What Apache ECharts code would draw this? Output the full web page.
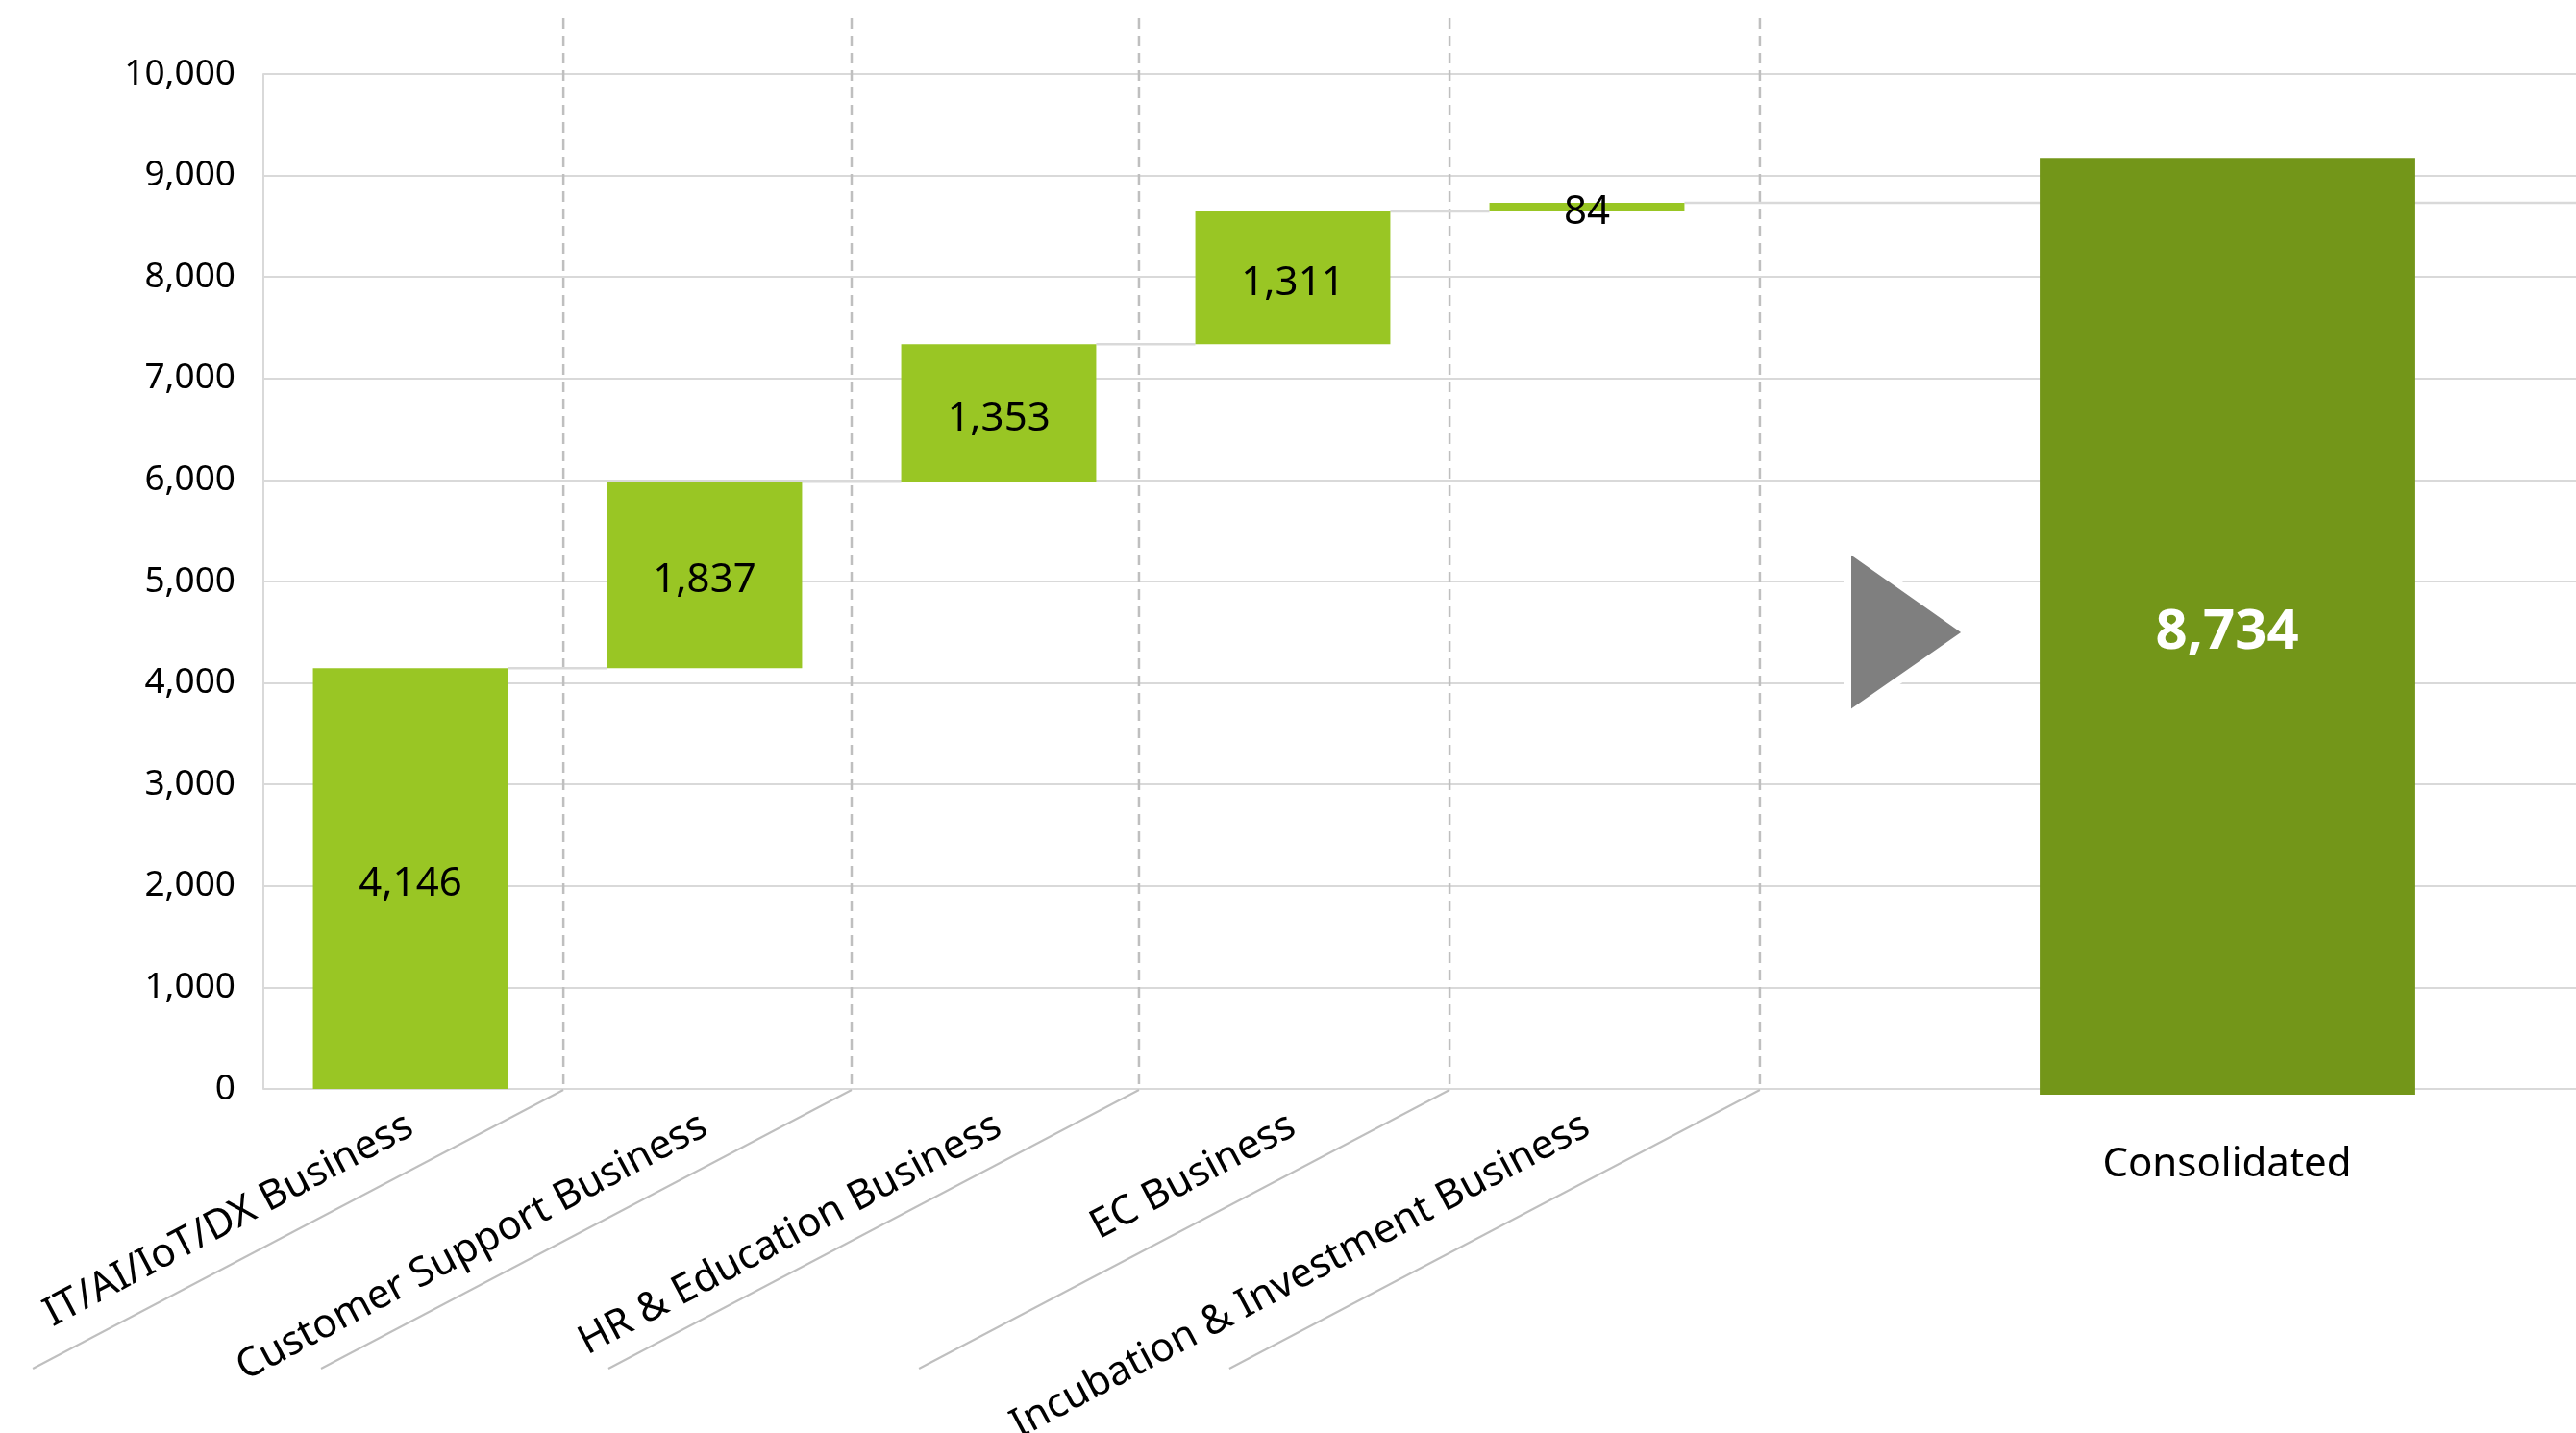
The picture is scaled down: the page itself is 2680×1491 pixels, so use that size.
<!DOCTYPE html>
<html>
<head>
<meta charset="utf-8">
<script src="https://cdn.jsdelivr.net/npm/echarts@6/dist/echarts.min.js"></script>
<style>
  html, body { margin: 0; padding: 0; background: #ffffff; }
  #chart { width: 2680px; height: 1491px; }
</style>
</head>
<body>
<div id="chart"></div>
<script>
// ---- data ----
const categories = ['IT/AI/IoT/DX Business', 'Customer Support Business', 'HR & Education Business', 'EC Business', 'Incubation & Investment Business'];
const segmentValues = [4146, 1837, 1353, 1311, 84];
const totalCategory = ['Consolidated'];
const totalValues = [8734];
const yMin = 0;
const yMax = 10000;
const yInterval = 1000;
// separator positions, in category units along the business axis
const separatorPositions = [1.02, 2.0, 2.977, 4.033, 5.088];
const separatorTopValue = 10550;

// waterfall bases (running sum of the previous segments)
const bases = [];
const tops = [];
let run = 0;
segmentValues.forEach(function (v) { bases.push(run); run += v; tops.push(run); });

const FONT = 'Noto Sans';
const GREEN = '#99c624';
const DARK_GREEN = '#739619';
const GRID_GRAY = '#d9d9d9';
const SEP_GRAY = '#bfbfbf';
const BAR_RATIO = 0.663;

const fmt = function (v) { return Number(v).toLocaleString('en-US'); };

const chart = echarts.init(document.getElementById('chart'), null, { renderer: 'canvas' });

const option = {
  backgroundColor: '#ffffff',
  animation: false,
  grid: [
    { left: 274, top: 77, right: 0, bottom: 358, containLabel: false, outerBoundsMode: 'none' },
    { left: 274, top: 77, width: 1530, bottom: 358, containLabel: false, outerBoundsMode: 'none' },
    { left: 1960, top: 23, width: 714, bottom: 352, containLabel: false, outerBoundsMode: 'none' }
  ],
  xAxis: [
    { type: 'value', gridIndex: 0, show: false, min: 0, max: 1 },
    {
      type: 'category', gridIndex: 1, data: categories,
      axisLine: { show: false }, axisTick: { show: false },
      axisLabel: { interval: 0, rotate: 28, margin: 36, fontSize: 42, fontFamily: FONT, color: '#000' }
    },
    { type: 'value', gridIndex: 1, show: false, min: 0, max: 5 },
    {
      type: 'category', gridIndex: 2, data: totalCategory,
      axisLine: { show: false }, axisTick: { show: false },
      axisLabel: { margin: 52, fontSize: 42, fontFamily: FONT, color: '#000' }
    }
  ],
  yAxis: [
    {
      type: 'value', gridIndex: 0, min: yMin, max: yMax, interval: yInterval,
      axisLine: { show: true, lineStyle: { color: GRID_GRAY, width: 2 } },
      axisTick: { show: false },
      splitLine: { show: true, lineStyle: { color: GRID_GRAY, width: 2 } },
      axisLabel: { margin: 29, fontSize: 37, fontFamily: FONT, color: '#000', formatter: fmt }
    },
    { type: 'value', gridIndex: 1, min: yMin, max: yMax, show: false },
    { type: 'value', gridIndex: 2, min: yMin, max: yMax, show: false }
  ],
  series: [
    {
      // dashed separators with diagonal label dividers
      type: 'custom', xAxisIndex: 2, yAxisIndex: 1, z: 1, silent: true, clip: false,
      data: separatorPositions.map(function (p) { return [p]; }),
      renderItem: function (params, api) {
        const x = api.value(0);
        const top = api.coord([x, separatorTopValue]);
        const bot = api.coord([x, 0]);
        return {
          type: 'group',
          children: [
            { type: 'line', shape: { x1: top[0], y1: top[1], x2: bot[0], y2: bot[1] },
              style: { stroke: SEP_GRAY, lineWidth: 2.5, lineDash: [11, 7] } },
            { type: 'line', shape: { x1: bot[0], y1: bot[1] + 1, x2: bot[0] - 552, y2: bot[1] + 291 },
              style: { stroke: SEP_GRAY, lineWidth: 2 } }
          ]
        };
      }
    },
    {
      // connector lines between floating bars
      type: 'custom', xAxisIndex: 1, yAxisIndex: 1, z: 1, silent: true, clip: false,
      data: tops.map(function (t, i) { return [i, t]; }),
      renderItem: function (params, api) {
        const i = api.value(0);
        const p = api.coord([i, api.value(1)]);
        const w = api.size([1, 0])[0];
        const bw = w * BAR_RATIO;
        const x1 = p[0] + bw / 2;
        const x2 = i < categories.length - 1 ? p[0] + w - bw / 2 : api.getWidth();
        return { type: 'line', shape: { x1: x1, y1: p[1], x2: x2, y2: p[1] },
                 style: { stroke: GRID_GRAY, lineWidth: 2.5 } };
      }
    },
    {
      type: 'bar', xAxisIndex: 1, yAxisIndex: 1, stack: 'wf', z: 3,
      barWidth: (BAR_RATIO * 100) + '%',
      itemStyle: { color: 'rgba(0,0,0,0)' },
      emphasis: { disabled: true },
      data: bases
    },
    {
      type: 'bar', xAxisIndex: 1, yAxisIndex: 1, stack: 'wf', z: 3,
      barWidth: (BAR_RATIO * 100) + '%',
      itemStyle: { color: GREEN },
      label: { show: true, position: 'inside', offset: [0, 6], fontSize: 42, fontFamily: FONT, color: '#000',
               formatter: function (p) { return fmt(p.value); } },
      data: segmentValues
    },
    {
      type: 'bar', xAxisIndex: 3, yAxisIndex: 2, z: 3,
      barWidth: '54.6%',
      itemStyle: { color: DARK_GREEN },
      label: { show: true, position: 'inside', offset: [0, 7], fontSize: 58, fontWeight: 'bold', fontFamily: FONT, color: '#fff',
               formatter: function (p) { return fmt(p.value); } },
      data: totalValues
    }
  ],
  graphic: [
    {
      type: 'polygon', z: 10, silent: true,
      shape: { points: [[1922, 570], [1922, 745], [2047, 658]] },
      style: { fill: '#7f7f7f', stroke: '#ffffff', lineWidth: 8, lineJoin: 'miter' }
    }
  ]
};

chart.setOption(option);
</script>
</body>
</html>
